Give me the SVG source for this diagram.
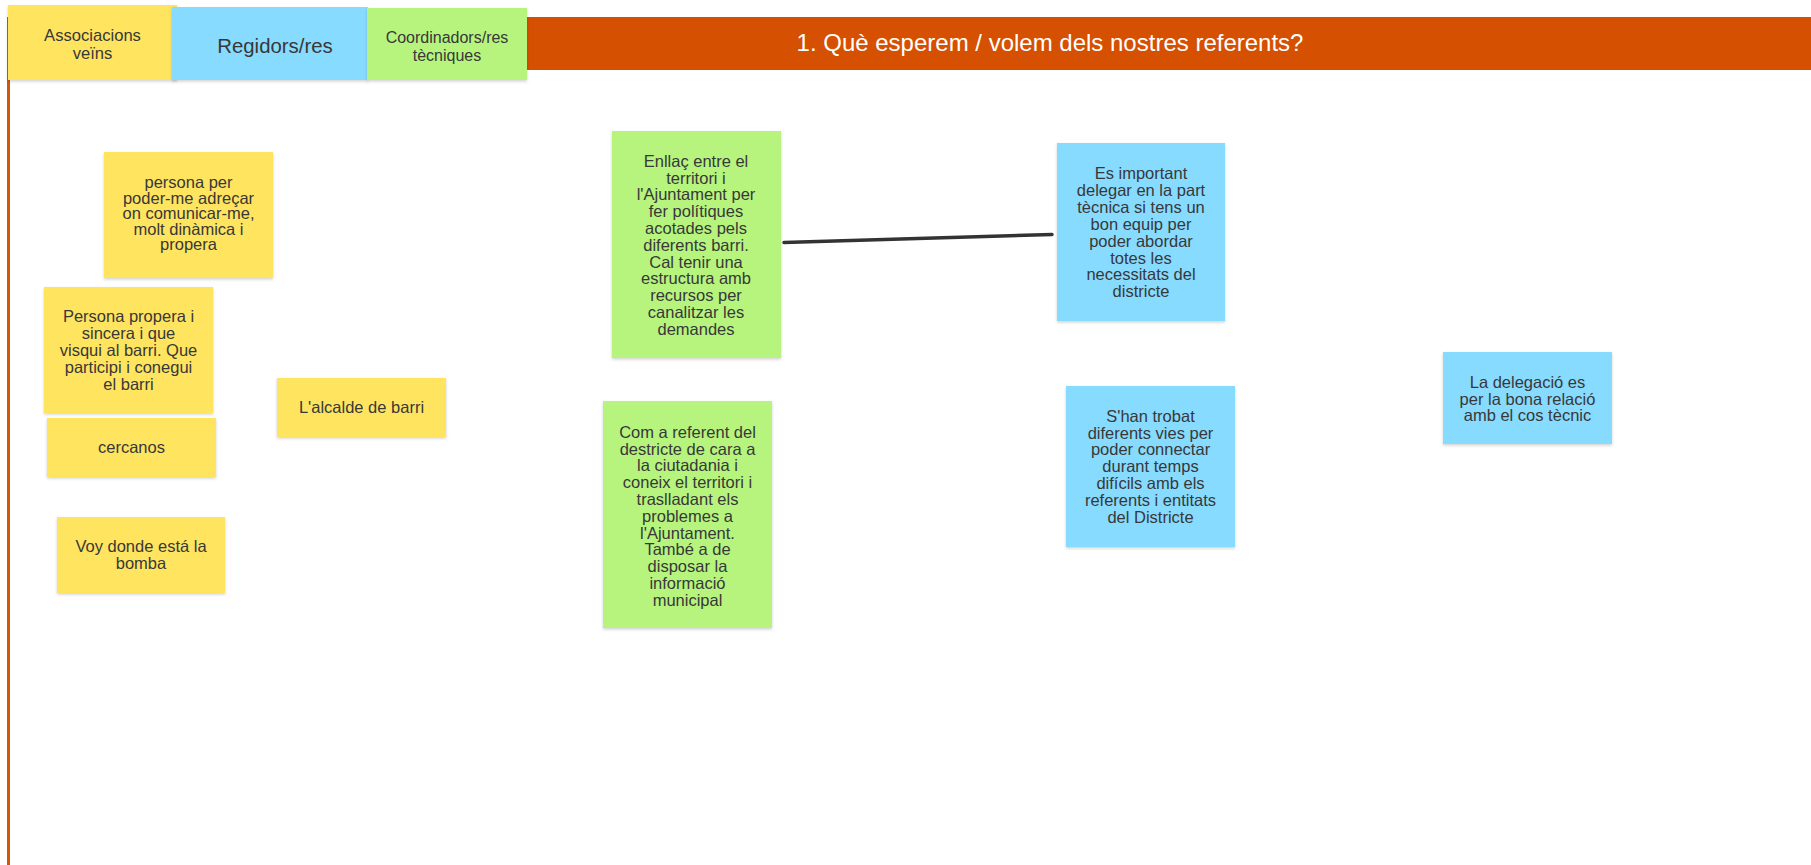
<svg xmlns="http://www.w3.org/2000/svg" width="1811" height="865" viewBox="0 0 1811 865">
<defs>
<filter id="sh" x="-10%" y="-10%" width="120%" height="125%">
<feDropShadow dx="0" dy="1.5" stdDeviation="1.5" flood-color="#000" flood-opacity="0.18"/>
</filter>
<radialGradient id="blob" cx="50%" cy="100%" r="60%">
<stop offset="0" stop-color="#f4f4f4"/>
<stop offset="1" stop-color="#ffffff" stop-opacity="0"/>
</radialGradient>
<style>
.y{fill:#FFE45E;filter:url(#sh)}
.b{fill:#87DBFF;filter:url(#sh)}
.g{fill:#B6F47E;filter:url(#sh)}
.t{font-family:"Liberation Sans",Arial,Helvetica,sans-serif;font-size:16.5px;fill:#383838;text-anchor:middle}
.h{font-family:"Liberation Sans",Arial,Helvetica,sans-serif;fill:#383838;text-anchor:middle}
.conn{stroke:#333;stroke-width:3.5;stroke-linecap:round;fill:none}
</style>
</defs>
<rect width="1811" height="865" fill="#ffffff"/>
<g id="frame">
<rect x="8" y="17" width="1803" height="53" fill="#D55000"/>
<rect x="7" y="17" width="3" height="848" fill="#D4560B"/>
<text x="1050" y="51" font-family="Liberation Sans, Arial, sans-serif" font-size="24" fill="#ffffff" text-anchor="middle">1. Què esperem / volem dels nostres referents?</text>
</g>
<ellipse cx="1243" cy="868" rx="60" ry="24" fill="url(#blob)"/>
<g id="connectors">
<path class="conn" d="M784 242.5 L1052 234.5"/>
</g>
<g id="h-associacions">
<rect class="y" x="8" y="5" width="169" height="75"/>
<text class="h" font-size="16.6"><tspan x="92.5" y="41">Associacions</tspan><tspan x="92.5" y="59">veïns</tspan></text>
</g>
<g id="h-regidors">
<rect class="b" x="172" y="7" width="196" height="73"/>
<text class="h" font-size="20.4" x="275" y="52.5">Regidors/res</text>
</g>
<g id="h-coordinadors">
<rect class="g" x="367" y="8" width="160" height="72"/>
<text class="h" font-size="16"><tspan x="447" y="43">Coordinadors/res</tspan><tspan x="447" y="61">tècniques</tspan></text>
</g>
<g id="n-persona-per">
<rect class="y" x="104" y="152" width="169" height="126"/>
<text class="t"><tspan x="188.5" y="188">persona per</tspan><tspan x="188.5" dy="15.5">poder-me adreçar</tspan><tspan x="188.5" dy="15.5">on comunicar-me,</tspan><tspan x="188.5" dy="15.5">molt dinàmica i</tspan><tspan x="188.5" dy="15.5">propera</tspan></text>
</g>
<g id="n-persona-propera">
<rect class="y" x="44" y="287" width="169" height="126"/>
<text class="t"><tspan x="128.5" y="322">Persona propera i</tspan><tspan x="128.5" dy="17">sincera i que</tspan><tspan x="128.5" dy="17">visqui al barri. Que</tspan><tspan x="128.5" dy="17">participi i conegui</tspan><tspan x="128.5" dy="17">el barri</tspan></text>
</g>
<g id="n-cercanos">
<rect class="y" x="47" y="418" width="169" height="59"/>
<text class="t" x="131.5" y="453">cercanos</text>
</g>
<g id="n-alcalde">
<rect class="y" x="277" y="378" width="169" height="59"/>
<text class="t" x="361.5" y="413">L'alcalde de barri</text>
</g>
<g id="n-voy">
<rect class="y" x="57" y="517" width="168" height="76"/>
<text class="t"><tspan x="141" y="552">Voy donde está la</tspan><tspan x="141" dy="17">bomba</tspan></text>
</g>
<g id="n-enllac">
<rect class="g" x="612" y="131" width="169" height="227"/>
<text class="t"><tspan x="696" y="166.7">Enllaç entre el</tspan><tspan x="696" dy="16.8">territori i</tspan><tspan x="696" dy="16.8">l'Ajuntament per</tspan><tspan x="696" dy="16.8">fer polítiques</tspan><tspan x="696" dy="16.8">acotades pels</tspan><tspan x="696" dy="16.8">diferents barri.</tspan><tspan x="696" dy="16.8">Cal tenir una</tspan><tspan x="696" dy="16.8">estructura amb</tspan><tspan x="696" dy="16.8">recursos per</tspan><tspan x="696" dy="16.8">canalitzar les</tspan><tspan x="696" dy="16.8">demandes</tspan></text>
</g>
<g id="n-com-a-referent">
<rect class="g" x="603" y="401" width="169" height="227"/>
<text class="t"><tspan x="687.5" y="437.7">Com a referent del</tspan><tspan x="687.5" dy="16.8">destricte de cara a</tspan><tspan x="687.5" dy="16.8">la ciutadania i</tspan><tspan x="687.5" dy="16.8">coneix el territori i</tspan><tspan x="687.5" dy="16.8">traslladant els</tspan><tspan x="687.5" dy="16.8">problemes a</tspan><tspan x="687.5" dy="16.8">l'Ajuntament.</tspan><tspan x="687.5" dy="16.8">També a de</tspan><tspan x="687.5" dy="16.8">disposar la</tspan><tspan x="687.5" dy="16.8">informació</tspan><tspan x="687.5" dy="16.8">municipal</tspan></text>
</g>
<g id="n-es-important">
<rect class="b" x="1057" y="143" width="168" height="178"/>
<text class="t"><tspan x="1141" y="179">Es important</tspan><tspan x="1141" dy="16.9">delegar en la part</tspan><tspan x="1141" dy="16.9">tècnica si tens un</tspan><tspan x="1141" dy="16.9">bon equip per</tspan><tspan x="1141" dy="16.9">poder abordar</tspan><tspan x="1141" dy="16.9">totes les</tspan><tspan x="1141" dy="16.9">necessitats del</tspan><tspan x="1141" dy="16.9">districte</tspan></text>
</g>
<g id="n-shan-trobat">
<rect class="b" x="1066" y="386" width="169" height="161"/>
<text class="t"><tspan x="1150.5" y="421.7">S'han trobat</tspan><tspan x="1150.5" dy="16.8">diferents vies per</tspan><tspan x="1150.5" dy="16.8">poder connectar</tspan><tspan x="1150.5" dy="16.8">durant temps</tspan><tspan x="1150.5" dy="16.8">difícils amb els</tspan><tspan x="1150.5" dy="16.8">referents i entitats</tspan><tspan x="1150.5" dy="16.8">del Districte</tspan></text>
</g>
<g id="n-delegacio">
<rect class="b" x="1443" y="352" width="169" height="92"/>
<text class="t"><tspan x="1527.5" y="388">La delegació es</tspan><tspan x="1527.5" dy="16.6">per la bona relació</tspan><tspan x="1527.5" dy="16.6">amb el cos tècnic</tspan></text>
</g>
</svg>
